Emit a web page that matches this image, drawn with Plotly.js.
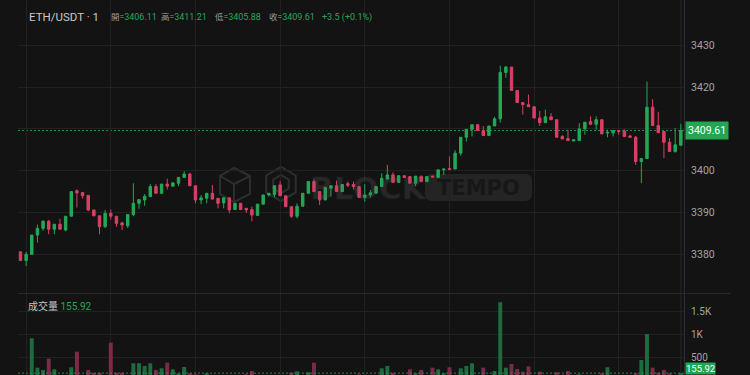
<!DOCTYPE html>
<html>
<head>
<meta charset="utf-8">
<script src="https://cdn.plot.ly/plotly-3.0.1.min.js"></script>
<style>
html,body{margin:0;padding:0;background:#131313;}
#chart{width:750px;height:375px;}
</style>
</head>
<body>
<div id="chart"></div>
<script>
// ---- data (1-minute ETH/USDT candles) ----
const openP = [3380.6,3378.5,3380.0,3384.6,3386.2,3387.9,3386.0,3387.2,3385.8,3389.1,
3395.2,3394.8,3394.1,3390.6,3389.2,3386.6,3389.8,3389.1,3387.5,3386.8,
3389.5,3392.2,3393.0,3393.8,3396.2,3394.6,3396.8,3396.3,3397.0,3398.4,
3399.2,3396.4,3393.0,3393.4,3394.6,3393.4,3392.3,3393.5,3390.7,3392.2,
3391.0,3390.7,3389.3,3392.0,3394.2,3394.3,3396.6,3394.0,3391.4,3389.1,
3391.5,3394.6,3397.4,3395.0,3393.0,3395.8,3396.4,3395.0,3396.9,3396.7,
3396.2,3393.6,3394.2,3394.6,3396.2,3398.0,3399.0,3397.2,3398.8,3398.6,
3397.0,3398.7,3397.4,3398.7,3398.4,3400.2,3400.5,3400.4,3404.2,3408.0,
3409.9,3411.0,3409.6,3408.4,3410.7,3412.4,3423.5,3424.8,3419.2,3416.3,
3415.8,3415.3,3412.6,3411.5,3412.9,3412.2,3408.2,3407.7,3407.1,3407.2,
3410.0,3411.8,3411.1,3412.2,3409.0,3409.0,3409.6,3409.5,3408.3,3408.0,
3402.2,3402.9,3415.2,3410.8,3409.4,3406.8,3404.6,3406.11];
const highP = [3380.6,3380.6,3384.6,3387.1,3388.2,3388.2,3387.2,3388.5,3389.1,3395.0,
3395.5,3394.8,3394.1,3390.6,3389.2,3390.6,3390.7,3389.1,3387.8,3389.5,
3397.0,3393.1,3394.4,3396.8,3396.8,3396.8,3398.1,3397.1,3398.4,3399.9,
3399.5,3396.4,3394.2,3394.6,3396.6,3393.4,3393.5,3393.5,3392.2,3392.2,
3391.0,3391.4,3392.0,3394.2,3394.6,3396.4,3397.5,3394.0,3391.4,3392.2,
3394.6,3397.4,3397.9,3395.0,3396.0,3396.4,3397.6,3396.7,3397.4,3397.4,
3396.2,3396.8,3395.4,3396.2,3399.4,3401.4,3399.6,3398.8,3398.8,3398.6,
3398.7,3398.7,3398.6,3398.8,3400.2,3400.4,3403.4,3404.9,3408.0,3409.9,
3411.0,3411.0,3410.7,3410.7,3412.9,3425.1,3425.0,3424.8,3419.2,3416.3,
3418.2,3415.3,3414.3,3414.6,3413.8,3412.2,3408.5,3409.8,3407.4,3411.4,
3411.6,3413.0,3413.0,3412.2,3409.8,3409.6,3409.6,3409.9,3408.6,3408.3,
3402.9,3421.3,3417.1,3414.1,3409.4,3407.8,3410.2,3411.21];
const lowP = [3378.5,3377.2,3380.0,3382.8,3385.6,3384.8,3384.8,3386.0,3385.5,3389.1,
3391.2,3393.3,3390.3,3389.2,3384.8,3386.3,3388.3,3386.6,3385.8,3386.3,
3389.1,3390.9,3391.6,3393.8,3394.6,3394.6,3395.5,3396.3,3396.3,3398.4,
3396.3,3392.2,3392.0,3392.2,3393.2,3391.0,3391.0,3389.8,3390.7,3390.7,
3389.9,3387.9,3389.3,3392.0,3393.8,3393.6,3394.0,3391.4,3388.7,3388.6,
3391.5,3394.6,3395.0,3391.8,3393.0,3393.8,3395.0,3395.0,3396.1,3395.5,
3393.6,3392.6,3393.6,3394.6,3396.2,3398.0,3397.2,3397.2,3398.4,3397.0,
3396.3,3397.4,3397.4,3398.4,3398.4,3399.0,3400.2,3400.4,3403.6,3407.0,
3408.2,3409.6,3408.4,3408.4,3410.7,3411.5,3422.2,3419.2,3416.3,3413.4,
3415.3,3412.6,3410.7,3411.5,3412.2,3408.0,3407.6,3407.2,3407.1,3407.2,
3408.6,3411.1,3409.8,3408.8,3408.0,3408.2,3408.6,3408.2,3408.0,3401.4,
3397.0,3402.9,3410.8,3409.1,3403.0,3404.6,3404.3,3405.88];
const closeP = [3378.5,3380.0,3384.6,3386.2,3387.9,3386.0,3387.2,3386.0,3389.1,3395.0,
3394.7,3394.0,3390.6,3389.2,3386.6,3389.8,3389.1,3387.4,3387.0,3389.5,
3392.2,3393.1,3393.9,3396.2,3394.6,3396.8,3396.3,3397.1,3398.4,3399.2,
3396.4,3393.0,3393.5,3394.6,3393.2,3392.2,3393.5,3390.6,3392.2,3390.7,
3390.6,3389.4,3392.0,3394.2,3394.6,3396.4,3394.0,3391.4,3389.1,3391.5,
3394.6,3397.4,3395.0,3393.0,3396.0,3396.4,3395.0,3396.7,3396.5,3396.2,
3393.6,3394.2,3394.7,3396.2,3398.2,3399.0,3397.2,3398.8,3398.4,3397.0,
3398.7,3397.4,3398.6,3398.5,3400.2,3400.4,3400.3,3404.2,3408.0,3409.9,
3411.0,3409.6,3408.4,3410.7,3412.4,3423.5,3424.8,3419.2,3416.3,3415.8,
3415.3,3412.6,3411.5,3412.9,3412.2,3408.0,3407.6,3407.2,3407.4,3410.0,
3411.6,3411.1,3412.2,3408.8,3409.2,3409.6,3409.4,3408.2,3408.0,3402.2,
3402.9,3415.2,3410.8,3409.1,3406.8,3404.6,3406.2,3409.61];
const volume = [80,100,913,274,224,470,239,90,70,283,
622,100,224,165,165,95,818,165,165,60,
370,370,311,370,224,261,383,239,152,289,
152,130,80,152,90,60,70,100,50,80,
130,202,100,90,60,80,110,70,167,196,
90,174,383,100,80,60,90,70,50,80,
130,100,60,90,261,311,165,100,60,239,
152,224,90,274,239,152,283,110,261,311,
370,100,274,100,202,1696,274,354,246,187,
304,100,187,80,90,174,100,202,60,130,
90,100,80,152,283,70,60,100,80,152,
441,1007,274,165,224,152,100,155.92];
const priceTicks = [3380,3390,3400,3410,3420,3430];
const priceTickText = ['3380','3390','3400','','3420','3430'];
const volTickVals = [500,1000,1500];
const volTickText = ['500','1K','1.5K'];
const pairLabel = 'ETH/USDT · 1';
const volLabel = '成交量';

// ---- styling ----
const BG = '#131313', GRID = '#212121';
const UP = '#23a955', DOWN = '#db3f66';
const UPV = '#1d6b3e', DOWNV = '#7a2b48';
const TXT = '#a3a3a3';
const FONT = 'Roboto, "Noto Sans CJK TC", sans-serif';

const N = closeP.length;
const idx = closeP.map((_, i) => i);
const volColors = closeP.map((c, i) => c >= openP[i] ? UPV : DOWNV);

// pixel -> paper helpers (plot area spans x 18..684, y 0..375)
const L = 18, R = 684, H = 375;
const px = v => (v - L) / (R - L);
const py = v => (H - v) / H;

const last = N - 1;
const lo = openP[last], lh = highP[last], ll = lowP[last], lc = closeP[last];
const chg = lc - lo;
const pct = chg / lo * 100;
const sign = chg >= 0 ? '+' : '';
const G = '#2aa65a', LBL = '#9d9d9d';
const kv = (k, v) => `<span style="color:${LBL};font-size:8.5px">${k}=</span><span style="color:${G}">${v}</span>`;

const candle = {
  type: 'candlestick', x: idx, open: openP, high: highP, low: lowP, close: closeP,
  xaxis: 'x', yaxis: 'y',
  increasing: {line: {color: UP, width: 1}, fillcolor: UP},
  decreasing: {line: {color: DOWN, width: 1}, fillcolor: DOWN},
  whiskerwidth: 0, hoverinfo: 'skip'
};
const vol = {
  type: 'bar', x: idx, y: volume, xaxis: 'x', yaxis: 'y2',
  marker: {color: volColors, line: {width: 0}}, hoverinfo: 'skip'
};

const annFont = (size, color, extra) => Object.assign({family: FONT, size: size, color: color}, extra || {});
const HS = 9;
const annotations = [
  {xref:'paper', yref:'paper', x: px(27), y: py(17), xanchor:'left', yanchor:'middle', showarrow:false,
   text: pairLabel, font: annFont(11.5, '#c9c9c9')},
  {xref:'paper', yref:'paper', x: px(109), y: py(17), xanchor:'left', yanchor:'middle', showarrow:false,
   text: kv('開', lo.toFixed(2)), font: annFont(HS, G)},
  {xref:'paper', yref:'paper', x: px(158.5), y: py(17), xanchor:'left', yanchor:'middle', showarrow:false,
   text: kv('高', lh.toFixed(2)), font: annFont(HS, G)},
  {xref:'paper', yref:'paper', x: px(212.5), y: py(17), xanchor:'left', yanchor:'middle', showarrow:false,
   text: kv('低', ll.toFixed(2)), font: annFont(HS, G)},
  {xref:'paper', yref:'paper', x: px(266.5), y: py(17), xanchor:'left', yanchor:'middle', showarrow:false,
   text: kv('收', lc.toFixed(2)), font: annFont(HS, G)},
  {xref:'paper', yref:'paper', x: px(319.5), y: py(17), xanchor:'left', yanchor:'middle', showarrow:false,
   text: `${sign}${chg.toFixed(1)} (${sign}${pct.toFixed(1)}%)`, font: annFont(HS, G)},
  {xref:'paper', yref:'paper', x: px(26), y: py(306), xanchor:'left', yanchor:'middle', showarrow:false,
   text: `<span style="color:#c4c4c4">${volLabel}</span> <span style="color:${G}">${volume[last].toFixed(2)}</span>`,
   font: annFont(10, '#c4c4c4')},
  // current price label
  {xref:'paper', yref:'y', x: px(685), y: lc, xanchor:'left', yanchor:'middle', showarrow:false,
   text: lc.toFixed(2), bgcolor: '#23a552', borderpad: 2, font: annFont(10.5, '#ffffff')},
  // current volume label (kept inside the frame)
  {xref:'paper', yref:'paper', x: px(685), y: 0, xanchor:'left', yanchor:'bottom', showarrow:false,
   text: volume[last].toFixed(2), bgcolor: '#23a552', borderpad: 0, font: annFont(9.5, '#ffffff')},
  // watermark
  {xref:'paper', yref:'paper', x: px(368), y: py(187.5), xanchor:'center', yanchor:'middle', showarrow:false,
   text: '<b>BLOCK</b>', font: {family:'"DejaVu Sans", sans-serif', size: 31, color:'rgba(255,255,255,0.06)',
   shadow:'1px 1px 0 #363636, -1px -1px 0 #363636, 1px -1px 0 #363636, -1px 1px 0 #363636'}},
  {xref:'paper', yref:'paper', x: px(478.5), y: py(188), xanchor:'center', yanchor:'middle', showarrow:false,
   text: '<b>TEMPO</b>', font: {family:'"DejaVu Sans", sans-serif', size: 21, color:'#171717'}}
];

function pathPx(pts, close) {
  return pts.map((p, i) => (i ? 'L' : 'M') + px(p[0]).toFixed(4) + ',' + py(p[1]).toFixed(4)).join(' ') + (close ? ' Z' : '');
}
function hexPts(cx, cy, r) {
  const pts = [];
  for (let k = 0; k < 6; k++) { const a = Math.PI / 3 * k + Math.PI / 6; pts.push([cx + r * Math.cos(a), cy + r * Math.sin(a)]); }
  return pts;
}
function roundRect(x0, y0, x1, y1, r) {
  const X = px, Y = py;
  return `M${X(x0 + r)},${Y(y0)} L${X(x1 - r)},${Y(y0)} Q${X(x1)},${Y(y0)} ${X(x1)},${Y(y0 + r)} L${X(x1)},${Y(y1 - r)} Q${X(x1)},${Y(y1)} ${X(x1 - r)},${Y(y1)} L${X(x0 + r)},${Y(y1)} Q${X(x0)},${Y(y1)} ${X(x0)},${Y(y1 - r)} L${X(x0)},${Y(y0 + r)} Q${X(x0)},${Y(y0)} ${X(x0 + r)},${Y(y0)} Z`;
}
const WM = '#2e2e2e';
const shapes = [
  {type:'path', xref:'paper', yref:'paper', layer:'between', path: roundRect(425, 174, 532, 201, 7),
   fillcolor:'#242424', line:{width:0}},
  {type:'path', xref:'paper', yref:'paper', layer:'between', path: pathPx(hexPts(281, 184, 17), true),
   line:{color: WM, width: 2}},
  {type:'path', xref:'paper', yref:'paper', layer:'between', path: pathPx(hexPts(281, 184, 9), true),
   line:{color: WM, width: 2}},
  {type:'path', xref:'paper', yref:'paper', layer:'between',
   path: pathPx([[220,176],[234,168],[250,176],[250,194],[234,202],[220,194]], true), line:{color: WM, width: 2}},
  {type:'path', xref:'paper', yref:'paper', layer:'between',
   path: pathPx([[220,176],[234,184],[250,176]], false) + ' ' + pathPx([[234,184],[234,202]], false),
   line:{color: WM, width: 2}},
  {type:'line', xref:'paper', yref:'y', x0:0, x1:1, y0: lc, y1: lc, layer:'below',
   line:{color:'#1f8f4c', width:1, dash:'2px,2px'}},
  {type:'line', xref:'paper', yref:'y2', x0:0, x1:1, y0: volume[last], y1: volume[last], layer:'above',
   line:{color:'#1f8f4c', width:1, dash:'2px,2px'}},
  {type:'line', xref:'x', yref:'paper', x0: last, x1: last, y0: 0, y1: 1, layer:'below',
   line:{color:'#262626', width:1}},
  {type:'line', xref:'paper', yref:'paper', x0: px(18), x1: px(731), y0: py(293.5), y1: py(293.5),
   line:{color:'#2a2a2a', width:1}}
];

const layout = {
  width: 750, height: 375,
  margin: {l: L, r: 750 - R, t: 0, b: 0, pad: 0},
  paper_bgcolor: BG, plot_bgcolor: BG,
  showlegend: false, dragmode: false, hovermode: false,
  boxgap: 0.38, bargap: 0.3,
  font: {family: FONT, color: TXT, size: 10.5},
  xaxis: {
    range: [-0.44, N - 1 + 0.56], tick0: 1, dtick: 15, showgrid: true, gridcolor: GRID, gridwidth: 1,
    showticklabels: false, zeroline: false, showline: false, ticks: '',
    rangeslider: {visible: false}, fixedrange: true
  },
  yaxis: {
    domain: [(H - 293) / H, 1], range: [3370.74, 3440.84], side: 'right',
    tickvals: priceTicks, ticktext: priceTickText, showgrid: true, gridcolor: GRID, zeroline: false,
    showline: true, linecolor: '#2d2d3b', linewidth: 1, ticks: '', ticklabelstandoff: 4,
    tickfont: {family: FONT, size: 10.5, color: TXT}, fixedrange: true
  },
  yaxis2: {
    domain: [0, (H - 294) / H], range: [115, 1876], side: 'right',
    tickvals: volTickVals, ticktext: volTickText, showgrid: true, gridcolor: GRID, zeroline: false,
    showline: true, linecolor: '#2d2d3b', linewidth: 1, ticks: '', ticklabelstandoff: 4,
    tickfont: {family: FONT, size: 10, color: TXT}, fixedrange: true
  },
  annotations: annotations,
  shapes: shapes
};

Plotly.newPlot('chart', [vol, candle], layout, {staticPlot: true, displayModeBar: false});
</script>
</body>
</html>
